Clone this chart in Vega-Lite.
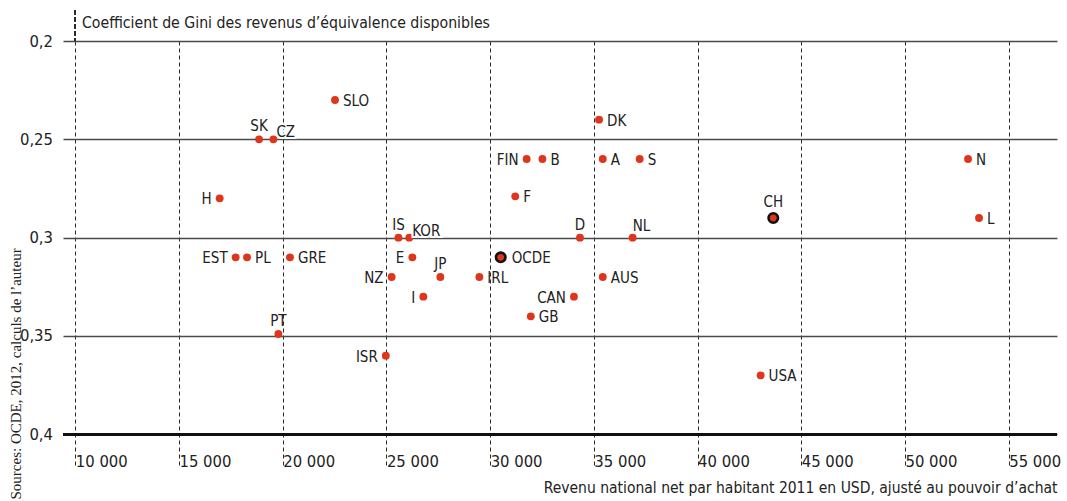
{
  "$schema": "https://vega.github.io/schema/vega-lite/v6.json",
  "autosize": {"type": "none"},
  "padding": {"left": 63, "top": 41, "right": 10, "bottom": 36},
  "width": 994,
  "height": 424,
  "background": "white",
  "title": {
    "text": "Coefficient de Gini des revenus d’équivalence disponibles",
    "anchor": "start",
    "frame": "group",
    "dx": 19,
    "offset": -34,
    "baseline": "alphabetic",
    "fontSize": 15.7,
    "fontWeight": "normal",
    "font": "Liberation Sans Narrow, DejaVu Sans Condensed, sans-serif",
    "color": "#222"
  },
  "data": {
    "values": [
      {"c": "SLO", "x": 22520, "y": 0.23},
      {"c": "SK", "x": 18860, "y": 0.25},
      {"c": "CZ", "x": 19550, "y": 0.25},
      {"c": "H", "x": 16960, "y": 0.28},
      {"c": "IS", "x": 25580, "y": 0.30},
      {"c": "KOR", "x": 26100, "y": 0.30},
      {"c": "FIN", "x": 31760, "y": 0.26},
      {"c": "B", "x": 32520, "y": 0.26},
      {"c": "F", "x": 31210, "y": 0.279},
      {"c": "DK", "x": 35250, "y": 0.24},
      {"c": "A", "x": 35430, "y": 0.26},
      {"c": "S", "x": 37210, "y": 0.26},
      {"c": "D", "x": 34330, "y": 0.30},
      {"c": "NL", "x": 36870, "y": 0.30},
      {"c": "CH", "x": 43650, "y": 0.29},
      {"c": "N", "x": 53040, "y": 0.26},
      {"c": "L", "x": 53570, "y": 0.29},
      {"c": "EST", "x": 17730, "y": 0.31},
      {"c": "PL", "x": 18280, "y": 0.31},
      {"c": "GRE", "x": 20350, "y": 0.31},
      {"c": "NZ", "x": 25250, "y": 0.32},
      {"c": "PT", "x": 19790, "y": 0.349},
      {"c": "ISR", "x": 24970, "y": 0.36},
      {"c": "E", "x": 26250, "y": 0.31},
      {"c": "JP", "x": 27600, "y": 0.32},
      {"c": "I", "x": 26780, "y": 0.33},
      {"c": "IRL", "x": 29480, "y": 0.32},
      {"c": "OCDE", "x": 30510, "y": 0.31},
      {"c": "AUS", "x": 35430, "y": 0.32},
      {"c": "CAN", "x": 34040, "y": 0.33},
      {"c": "GB", "x": 31960, "y": 0.34},
      {"c": "USA", "x": 43040, "y": 0.37}
    ]
  },
  "encoding": {
    "x": {
      "field": "x",
      "type": "quantitative",
      "scale": {"domain": [9407, 57329], "nice": false, "zero": false},
      "axis": {
        "values": [10000, 15000, 20000, 25000, 30000, 35000, 40000, 45000, 50000, 55000],
        "labelExpr": "replace(format(datum.value, ','), ',', ' ')",
        "grid": true,
        "gridDash": [4, 3],
        "gridColor": "#2a2a2a",
        "gridWidth": 1,
        "gridOpacity": 1,
        "domain": false,
        "ticks": false,
        "tickSize": 0,
        "labelAlign": "left",
        "labelBaseline": "alphabetic",
        "labelPadding": 1,
        "labelDx": 4,
        "labelFlush": false,
        "labelOverlap": false,
        "labelFontSize": 16.5,
        "labelColor": "#222",
        "title": "Revenu national net par habitant 2011 en USD, ajusté au pouvoir d’achat",
        "titleAnchor": "end",
        "titleAlign": "right",
        "titleX": 994,
        "titleY": 27,
        "titleBaseline": "alphabetic",
        "titleFontSize": 15.5,
        "titleFontWeight": "normal",
        "titleColor": "#222"
      }
    },
    "y": {
      "field": "y",
      "type": "quantitative",
      "scale": {"domain": [0.2, 0.4156], "reverse": true, "nice": false, "zero": false},
      "axis": {
        "values": [0.2, 0.25, 0.3, 0.35, 0.4],
        "labelExpr": "replace(format(datum.value, '.2~f'), '.', ',')",
        "grid": true,
        "gridColor": "#4a4a4a",
        "gridWidth": 1.3,
        "gridOpacity": 1,
        "domain": false,
        "ticks": false,
        "tickSize": 0,
        "labelPadding": 10.5,
        "labelFontSize": 16.5,
        "labelColor": "#222",
        "labelBaseline": "middle",
        "labelDy": 1,
        "title": "Sources: OCDE, 2012, calculs de l’auteur",
        "titleFont": "Liberation Serif, DejaVu Serif, serif",
        "titleFontSize": 15,
        "titleFontWeight": "normal",
        "titleColor": "#222",
        "titleAngle": -90,
        "titleX": -43,
        "titleY": 458,
        "titleAlign": "left",
        "titleBaseline": "alphabetic"
      }
    }
  },
  "layer": [
    {
      "mark": {"type": "rule", "strokeDash": [4, 3], "color": "#2a2a2a", "strokeWidth": 1},
      "encoding": {
        "x": {"datum": 10000, "type": "quantitative"},
        "y": {"datum": 0.1844, "type": "quantitative"},
        "y2": {"datum": 0.2}
      }
    },
    {
      "mark": {"type": "rule", "color": "#111", "strokeWidth": 2.8},
      "encoding": {
        "y": {"datum": 0.4, "type": "quantitative"},
        "x": null
      }
    },
    {
      "transform": [{"filter": {"not": {"field": "c", "oneOf": ["CH", "OCDE"]}}}],
      "mark": {"type": "circle", "size": 62, "color": "#e0351d", "opacity": 1}
    },
    {
      "transform": [{"filter": {"field": "c", "oneOf": ["CH", "OCDE"]}}],
      "mark": {"type": "point", "shape": "circle", "filled": true, "size": 90, "fill": "#e0351d", "stroke": "#111", "strokeWidth": 2.6, "opacity": 1, "fillOpacity": 1, "strokeOpacity": 1}
    },
    {
      "transform": [{"filter": {"field": "c", "oneOf": ["SLO", "DK", "B", "A", "S", "N", "L", "F", "GRE", "PL", "AUS", "IRL", "GB", "USA"]}}],
      "mark": {"type": "text", "align": "left", "baseline": "middle", "dx": 8, "dy": 1, "fontSize": 15, "color": "#222"},
      "encoding": {"text": {"field": "c"}}
    },
    {
      "transform": [{"filter": {"field": "c", "oneOf": ["OCDE"]}}],
      "mark": {"type": "text", "align": "left", "baseline": "middle", "dx": 11, "dy": 1, "fontSize": 15, "color": "#222"},
      "encoding": {"text": {"field": "c"}}
    },
    {
      "transform": [{"filter": {"field": "c", "oneOf": ["H", "EST", "FIN", "NZ", "ISR", "I", "CAN", "E"]}}],
      "mark": {"type": "text", "align": "right", "baseline": "middle", "dx": -8, "dy": 1, "fontSize": 15, "color": "#222"},
      "encoding": {"text": {"field": "c"}}
    },
    {
      "transform": [{"filter": {"field": "c", "oneOf": ["SK", "IS", "D", "PT", "JP"]}}],
      "mark": {"type": "text", "align": "center", "baseline": "alphabetic", "dy": -8, "fontSize": 15, "color": "#222"},
      "encoding": {"text": {"field": "c"}}
    },
    {
      "transform": [{"filter": {"field": "c", "oneOf": ["CH"]}}],
      "mark": {"type": "text", "align": "center", "baseline": "alphabetic", "dy": -11, "fontSize": 15, "color": "#222"},
      "encoding": {"text": {"field": "c"}}
    },
    {
      "transform": [{"filter": {"field": "c", "oneOf": ["CZ", "KOR"]}}],
      "mark": {"type": "text", "align": "left", "baseline": "alphabetic", "dx": 3, "dy": -2, "fontSize": 15, "stroke": "white", "strokeWidth": 4, "color": "white"},
      "encoding": {"text": {"field": "c"}}
    },
    {
      "transform": [{"filter": {"field": "c", "oneOf": ["CZ", "KOR"]}}],
      "mark": {"type": "text", "align": "left", "baseline": "alphabetic", "dx": 3, "dy": -2, "fontSize": 15, "color": "#222"},
      "encoding": {"text": {"field": "c"}}
    },
    {
      "transform": [{"filter": {"field": "c", "oneOf": ["NL"]}}],
      "mark": {"type": "text", "align": "left", "baseline": "alphabetic", "dx": 0, "dy": -7, "fontSize": 15, "color": "#222"},
      "encoding": {"text": {"field": "c"}}
    }
  ],
  "config": {
    "font": "Liberation Sans Narrow, DejaVu Sans Condensed, sans-serif",
    "view": {"stroke": null}
  }
}
